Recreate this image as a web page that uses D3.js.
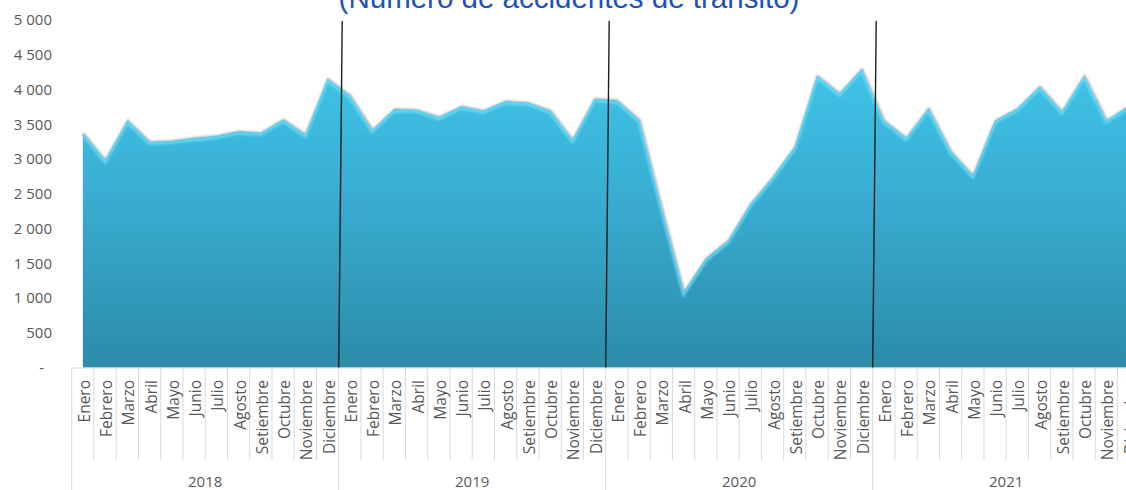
<!DOCTYPE html>
<html><head><meta charset="utf-8">
<script src="https://cdn.jsdelivr.net/npm/d3@7"></script>
<style>
html,body{margin:0;padding:0;background:#fff;overflow:hidden;}
svg{display:block;}
</style></head>
<body>
<svg id="chart" width="1126" height="490"></svg>
<script>
const title = "(Número de accidentes de tránsito)";
const years = ["2018", "2019", "2020", "2021"];
const months = ["Enero","Febrero","Marzo","Abril","Mayo","Junio","Julio","Agosto","Setiembre","Octubre","Noviembre","Diciembre"];
const values2018 = [3370, 2980, 3550, 3245, 3260, 3300, 3330, 3395, 3375, 3565, 3350, 4150];
const values2019 = [3910, 3415, 3715, 3705, 3600, 3755, 3695, 3830, 3810, 3695, 3270, 3865];
const values2020 = [3840, 3560, 2300, 1080, 1565, 1825, 2350, 2735, 3175, 4195, 3940, 4290];
const values2021 = [3550, 3300, 3725, 3110, 2760, 3550, 3725, 4040, 3680, 4195, 3550, 3760];
const yTicks = [0, 500, 1000, 1500, 2000, 2500, 3000, 3500, 4000, 4500, 5000];
const yTickLabels = ["-", "500", "1 000", "1 500", "2 000", "2 500", "3 000", "3 500", "4 000", "4 500", "5 000"];

const allValues = [values2018, values2019, values2020, values2021];
const data = [];
years.forEach((yr, yi) => months.forEach((m, mi) => data.push({key: yr + "-" + mi, year: yr, month: m, value: allValues[yi][mi]})));

const svg = d3.select("#chart");
const x = d3.scaleBand().domain(data.map(d => d.key)).range([71.7, 71.7 + 22.25 * 48]).padding(0);
const y = d3.scaleLinear().domain([0, 5000]).range([367.5, 20]);
const cx = d => x(d.key) + x.bandwidth() / 2;

const defs = svg.append("defs");
const grad = defs.append("linearGradient").attr("id", "fillGrad")
  .attr("gradientUnits", "userSpaceOnUse").attr("x1", 0).attr("x2", 0).attr("y1", y(4300)).attr("y2", y(0));
grad.append("stop").attr("offset", "0%").attr("stop-color", "#3fc3e7");
grad.append("stop").attr("offset", "45%").attr("stop-color", "#38acd0");
grad.append("stop").attr("offset", "100%").attr("stop-color", "#2c8ba9");
const blur = defs.append("filter").attr("id", "soft").attr("x", "-5%").attr("y", "-5%").attr("width", "110%").attr("height", "110%");
blur.append("feGaussianBlur").attr("stdDeviation", 1.1);

const area = d3.area().x(cx).y0(y(0)).y1(d => y(d.value));
const line = d3.line().x(cx).y(d => y(d.value));

defs.append("clipPath").attr("id", "areaClip").append("path").attr("d", area(data));

// shadow
svg.append("path").attr("d", line(data)).attr("fill", "none")
  .attr("stroke", "rgba(40,60,70,0.45)").attr("stroke-width", 2.2)
  .attr("transform", "translate(0.6,0.3)").attr("filter", "url(#soft)");
// area
svg.append("path").attr("d", area(data)).attr("fill", "url(#fillGrad)");
// highlight
svg.append("g").attr("clip-path", "url(#areaClip)")
  .append("path").attr("d", line(data)).attr("fill", "none")
  .attr("stroke", "#63dbf6").attr("stroke-width", 3).attr("transform", "translate(0,1.6)")
  .attr("filter", "url(#soft)");

// y labels
svg.append("g").selectAll("text").data(yTicks).join("text")
  .attr("x", (d, i) => i === 0 ? 44 : 52)
  .attr("y", d => y(d))
  .attr("dy", "0.36em")
  .attr("text-anchor", "end")
  .attr("font-family", "'Open Sans', sans-serif")
  .attr("font-size", 15)
  .attr("fill", "#595959")
  .text((d, i) => yTickLabels[i]);

// category axis grid
const axisTop = y(0) + 0.5;
const gAx = svg.append("g");
gAx.append("line").attr("x1", x.range()[0]).attr("x2", x.range()[1]).attr("y1", axisTop).attr("y2", axisTop)
  .attr("stroke", "#d9d9d9").attr("stroke-width", 1);
data.forEach((d, i) => {
  const isYear = i % 12 === 0;
  gAx.append("line").attr("x1", x(d.key)).attr("x2", x(d.key))
    .attr("y1", axisTop).attr("y2", isYear ? 490 : 460)
    .attr("stroke", "#d9d9d9").attr("stroke-width", 1);
});
gAx.append("line").attr("x1", x.range()[1]).attr("x2", x.range()[1]).attr("y1", axisTop).attr("y2", 490)
  .attr("stroke", "#d9d9d9");

// month labels
gAx.selectAll("text.m").data(data).join("text").attr("class", "m")
  .attr("transform", d => `translate(${cx(d) + 7},380) rotate(-90)`)
  .attr("text-anchor", "end")
  .attr("font-family", "'Open Sans', sans-serif")
  .attr("font-size", 15.5)
  .attr("fill", "#595959")
  .text(d => d.month);

// year labels
gAx.selectAll("text.y").data(years).join("text").attr("class", "y")
  .attr("x", (yr, i) => x(yr + "-0") + x.bandwidth() * 6)
  .attr("y", 486.5)
  .attr("text-anchor", "middle")
  .attr("font-family", "'Open Sans', sans-serif")
  .attr("font-size", 15)
  .attr("fill", "#595959")
  .text(yr => yr);

// year divider lines (drawn)
svg.append("g").selectAll("line").data(years.slice(1)).join("line")
  .attr("x1", yr => x(yr + "-0") + 3.5).attr("y1", 21)
  .attr("x2", yr => x(yr + "-0")).attr("y2", y(0))
  .attr("stroke", "#1e1e1e").attr("stroke-width", 1.4);

// title
svg.append("text").attr("x", 569).attr("y", 8)
  .attr("text-anchor", "middle")
  .attr("font-family", "'Liberation Sans', Arial, sans-serif")
  .attr("font-size", 29.5)
  .attr("fill", "#2152b6")
  .text(title);
</script>
</body></html>
